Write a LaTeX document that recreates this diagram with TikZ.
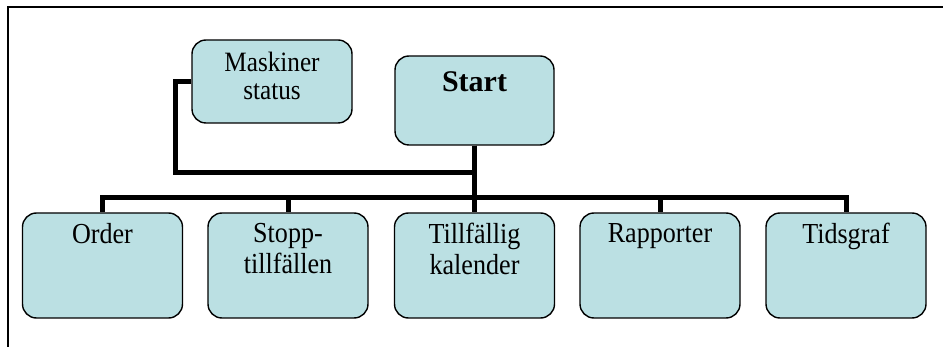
\documentclass[tikz,border=0pt]{standalone}
\usepackage{fontspec}
\setmainfont{Liberation Serif}[FakeStretch=0.9]
\newfontfamily\startfont{Liberation Serif}
\usetikzlibrary{positioning}
\definecolor{boxfill}{RGB}{187,224,227}
\tikzset{
	chart/.style={x=1pt,y=-1pt,node distance=11pt},
	box/.style={rectangle,rounded corners=14pt,draw,line width=1.4pt,fill=boxfill,
		minimum width=160pt,minimum height=105pt},
	boxtext/.style={inner sep=0pt,align=center,font=\fontsize{29}{31}\selectfont},
	conn/.style={line width=5pt},
	rim/.style={line width=2pt}
}

\begin{document}
\begin{tikzpicture}[chart]
	\useasboundingbox (0,0) rectangle (943,347);
	\draw[rim] (943,7) -- (8,7) -- (8,347);

	\node[box, minimum width=159pt, minimum height=89pt] (start) at (474.5,100.5) {};
	\node[box, minimum height=83pt] (mask) at (272,81.5) {};
	\node[box] (order) at (102.5,265.5) {};
	\node[box] (stopp) at (288,265.5) {};
	\node[box] (tillf) at (474.5,265.5) {};
	\node[box] (rapp) at (660,265.5) {};
	\node[box] (tids) at (846,265.5) {};

	\node[boxtext, font=\startfont\bfseries\fontsize{30}{32}\selectfont, below=16pt of start.north] (startt) {Start};
	\node[boxtext, font=\fontsize{28}{28}\selectfont, below=13pt of mask.north] (maskt) {Maskiner\\status};
	\node[boxtext, below=of order.north] (ordert) {Order};
	\node[boxtext, below=of stopp.north] (stoppt) {Stopp-\\tillfällen};
	\node[boxtext, below=of tillf.north] (tillft) {Tillfällig\\kalender};
	\node[boxtext, below=of rapp.north] (rappt) {Rapporter};
	\node[boxtext, below=of tids.north] (tidst) {Tidsgraf};

	\coordinate (bus) at (0,198);
	\coordinate (tap) at (0,173);
	\coordinate (bend) at (175,0);

	\draw[conn] (mask.west) -| (bend |- tap) -- (start.south |- tap);
	\foreach \c in {order,stopp,tillf,rapp,tids}
		\draw[conn] (start.south) |- (bus -| \c.north) -- (\c.north);

\end{tikzpicture}
\end{document}
